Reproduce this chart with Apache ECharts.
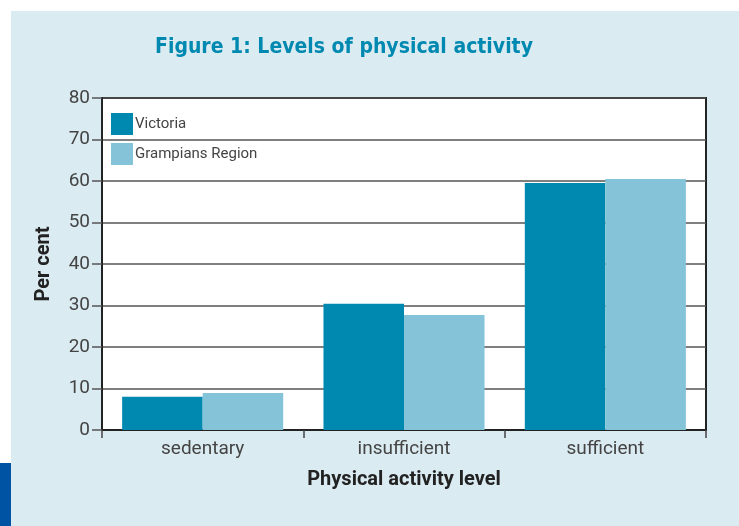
<!DOCTYPE html>
<html>
<head>
<meta charset="utf-8">
<script src="https://cdn.jsdelivr.net/npm/echarts@6/dist/echarts.min.js"></script>
<style>
    html, body { margin: 0; padding: 0; background: #ffffff; }
    #chart { width: 739px; height: 526px; }
</style>
</head>
<body>
<div id="chart"></div>
<script>
const categories = ['sedentary', 'insufficient', 'sufficient'];
const victoria = [8, 30.4, 59.5];
const grampians = [8.9, 27.7, 60.5];
const seriesNames = ['Victoria', 'Grampians Region'];
const yTicks = { min: 0, max: 80, interval: 10 };

(function () {
    const chart = echarts.init(document.getElementById('chart'));
    const colors = ['#0089b0', '#85c4d8'];
    const labelFont = 'Roboto, "Liberation Sans", sans-serif';

    const option = {
        backgroundColor: '#ffffff',
        animation: false,
        color: colors,
        graphic: [
            // panel background
            { type: 'rect', z: -10, shape: { x: 11, y: 11, width: 728, height: 515 }, style: { fill: '#dbebf2' } },
            // blue tab bottom-left
            { type: 'rect', z: -10, shape: { x: 0, y: 463, width: 11, height: 63 }, style: { fill: '#0052a3' } }
        ],
        title: {
            text: 'Figure 1: Levels of physical activity',
            left: 150,
            top: 32,
            textStyle: {
                color: '#0089b0',
                fontSize: 21,
                fontWeight: 'bold',
                fontFamily: '"Liberation Sans Narrow", "DejaVu Sans Condensed", Roboto, sans-serif'
            }
        },
        legend: {
            orient: 'vertical',
            left: 106,
            top: 108,
            itemWidth: 22,
            itemHeight: 22,
            itemGap: 8,
            icon: 'rect',
            data: seriesNames,
            textStyle: { color: '#444', fontSize: 15, fontFamily: labelFont, padding: [0, 0, 0, -3] }
        },
        grid: {
            left: 102,
            right: 33,
            top: 98,
            bottom: 96,
            show: true,
            backgroundColor: '#ffffff',
            borderColor: '#222',
            borderWidth: 2
        },
        xAxis: {
            type: 'category',
            data: categories,
            name: 'Physical activity level',
            nameLocation: 'middle',
            nameGap: 40,
            nameTextStyle: { color: '#222', fontSize: 20, fontWeight: 'bold', fontFamily: labelFont },
            axisLine: { lineStyle: { color: '#222', width: 2 } },
            axisTick: { show: true, length: 8, lineStyle: { color: '#444', width: 1.5 } },
            axisLabel: { color: '#444', fontSize: 19, fontFamily: labelFont, margin: 10 }
        },
        yAxis: {
            type: 'value',
            min: yTicks.min,
            max: yTicks.max,
            interval: yTicks.interval,
            name: 'Per cent',
            nameLocation: 'middle',
            nameGap: 48,
            nameTextStyle: { color: '#222', fontSize: 20, fontWeight: 'bold', fontFamily: labelFont },
            axisLine: { show: true, lineStyle: { color: '#222', width: 2 } },
            axisTick: { show: true, length: 10, lineStyle: { color: '#555', width: 1.5 } },
            axisLabel: { color: '#444', fontSize: 19, fontFamily: labelFont, margin: 12 },
            splitLine: { lineStyle: { color: '#555', width: 1.5 } }
        },
        series: [
            {
                name: seriesNames[0],
                type: 'bar',
                data: victoria,
                barGap: '0%',
                barCategoryGap: '20%',
                itemStyle: { color: colors[0] }
            },
            {
                name: seriesNames[1],
                type: 'bar',
                data: grampians,
                itemStyle: { color: colors[1] }
            }
        ]
    };
    chart.setOption(option);
})();
</script>
</body>
</html>
